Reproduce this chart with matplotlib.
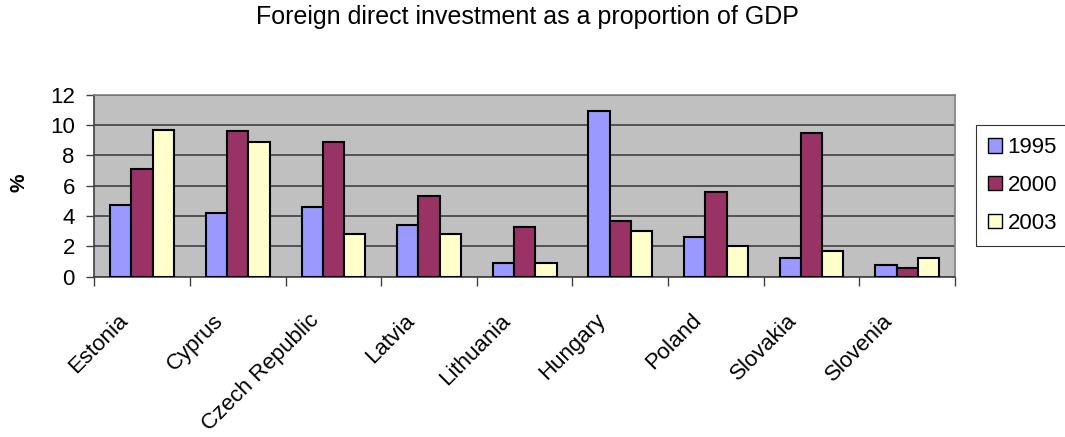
import matplotlib.pyplot as plt
import numpy as np
from matplotlib.patches import Patch
from matplotlib.transforms import ScaledTranslation

plt.rcParams['font.family'] = ['Liberation Sans', 'DejaVu Sans']

countries = ['Estonia', 'Cyprus', 'Czech Republic', 'Latvia', 'Lithuania',
             'Hungary', 'Poland', 'Slovakia', 'Slovenia']
years = ['1995', '2000', '2003']
fdi_1995 = [4.7, 4.2, 4.6, 3.4, 0.9, 10.9, 2.6, 1.2, 0.8]
fdi_2000 = [7.1, 9.6, 8.9, 5.3, 3.3, 3.7, 5.6, 9.5, 0.6]
fdi_2003 = [9.7, 8.9, 2.8, 2.8, 0.9, 3.0, 2.0, 1.7, 1.2]

colors = ['#9999FF', '#993366', '#FFFFCC']

W, H = 1065, 437
fig = plt.figure(figsize=(W / 100, H / 100), dpi=100)
ax = fig.add_axes([94.3 / W, 1 - 276.7 / H, (955 - 94.3) / W, (276.7 - 94.7) / H])
ax.set_facecolor('#C0C0C0')

ind = np.arange(len(countries))
width = 1 / 4.5
for i, (vals, c) in enumerate(zip([fdi_1995, fdi_2000, fdi_2003], colors)):
    ax.bar(ind + (i - 1) * width, vals, width, color=c, edgecolor='black',
           linewidth=1.5, zorder=3)

ax.set_xlim(-0.5, len(countries) - 0.5)
ax.set_ylim(0, 12)
ax.set_yticks(np.arange(0, 13, 2))
ax.tick_params(axis='y', labelsize=16, direction='out', length=6, width=1,
               pad=8, color='#404040')

# category ticks sit on the group boundaries, labels under each group
ax.set_xticks(np.arange(-0.5, len(countries), 1.0))
ax.set_xticklabels([])
ax.tick_params(axis='x', direction='out', length=6.5, width=1, color='#404040')
ax.set_xticks(ind, minor=True)
ax.set_xticklabels(countries, minor=True, rotation=45, ha='right', va='top',
                   rotation_mode='anchor', fontsize=16)
ax.tick_params(axis='x', which='minor', length=0, pad=24)
shift = ScaledTranslation(-0.25, 0, fig.dpi_scale_trans)
for lbl in ax.get_xticklabels(minor=True):
    lbl.set_transform(lbl.get_transform() + shift)

ax.yaxis.grid(True, color='#404040', linewidth=1.2, zorder=1)
ax.set_axisbelow(True)
for side in ['top', 'right']:
    ax.spines[side].set_color('#808080')
    ax.spines[side].set_linewidth(1.2)
for side in ['left', 'bottom']:
    ax.spines[side].set_color('#404040')
    ax.spines[side].set_linewidth(1.2)

fig.text(19 / W, 1 - 183 / H, '%', rotation=90, ha='center', va='center',
         fontsize=15, fontweight='bold')

fig.text(527 / W, 1 - 17 / H, 'Foreign direct investment as a proportion of GDP',
         ha='center', va='center', fontsize=18)

handles = [Patch(facecolor=c, edgecolor='black', linewidth=1) for c in colors]
leg = fig.legend(handles, years, loc='upper left',
                 bbox_to_anchor=(976 / W, 1 - 125 / H),
                 fontsize=16, frameon=True, fancybox=False, edgecolor='black',
                 handlelength=0.62, handleheight=0.62, handletextpad=0.25,
                 labelspacing=0.75, borderpad=0.55, borderaxespad=0)
leg.get_frame().set_linewidth(0.8)

fig.savefig('out.png', dpi=100)
